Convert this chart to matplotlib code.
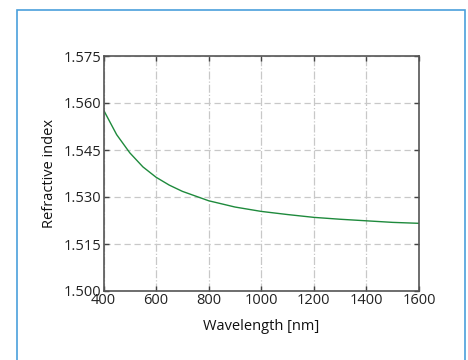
import matplotlib
matplotlib.use("Agg")
from matplotlib import pyplot as plt
from matplotlib.patches import Rectangle

plt.rcParams["font.family"] = ["Open Sans", "DejaVu Sans"]

# wavelength (nm) vs refractive index
wavelength = [400, 450, 500, 550, 600, 650, 700, 800, 900, 1000, 1100, 1200, 1300, 1400, 1500, 1600]
n_index = [1.5578, 1.5499, 1.5441, 1.5396, 1.5363, 1.5338, 1.5318, 1.5288, 1.5268,
           1.5254, 1.5244, 1.5235, 1.5229, 1.5224, 1.5219, 1.5216]

xticks = [400, 600, 800, 1000, 1200, 1400, 1600]
yticks = [1.500, 1.515, 1.530, 1.545, 1.560, 1.575]

fig = plt.figure(figsize=(4.68, 3.6), dpi=100)
# light blue frame round the figure
fig.patches.append(Rectangle((17 / 468, -0.05), 448 / 468, 1.05 - 10 / 360,
                             transform=fig.transFigure, fill=False,
                             edgecolor="#4a9fdc", linewidth=1.2))

ax = fig.add_axes([103.5 / 468, 1 - 291 / 360, 315.5 / 468, 235 / 360])
ax.plot(wavelength, n_index, color="#1e8a3c", linewidth=1.0)

ax.set_xlim(400, 1600)
ax.set_ylim(1.500, 1.575)
ax.set_xticks(xticks)
ax.set_yticks(yticks)
ax.set_yticklabels(["%.3f" % v for v in yticks])

ax.xaxis.grid(True, linestyle="-.", color="#c8c8c8", linewidth=0.9)
ax.yaxis.grid(True, linestyle=(0, (5, 3)), color="#c8c8c8", linewidth=0.9)

ax.tick_params(direction="in", top=True, right=True, length=3.5, width=1.0,
               color="#444444", labelsize=10.5, pad=1.5, labelcolor="#222222")
for s in ax.spines.values():
    s.set_color("#555555")
    s.set_linewidth(1.2)

ax.set_xlabel("Wavelength [nm]", fontsize=10.5, labelpad=8, color="#111111")
ax.set_ylabel("Refractive index", fontsize=10.5, labelpad=5, color="#111111")

fig.savefig("out.png", dpi=100)
